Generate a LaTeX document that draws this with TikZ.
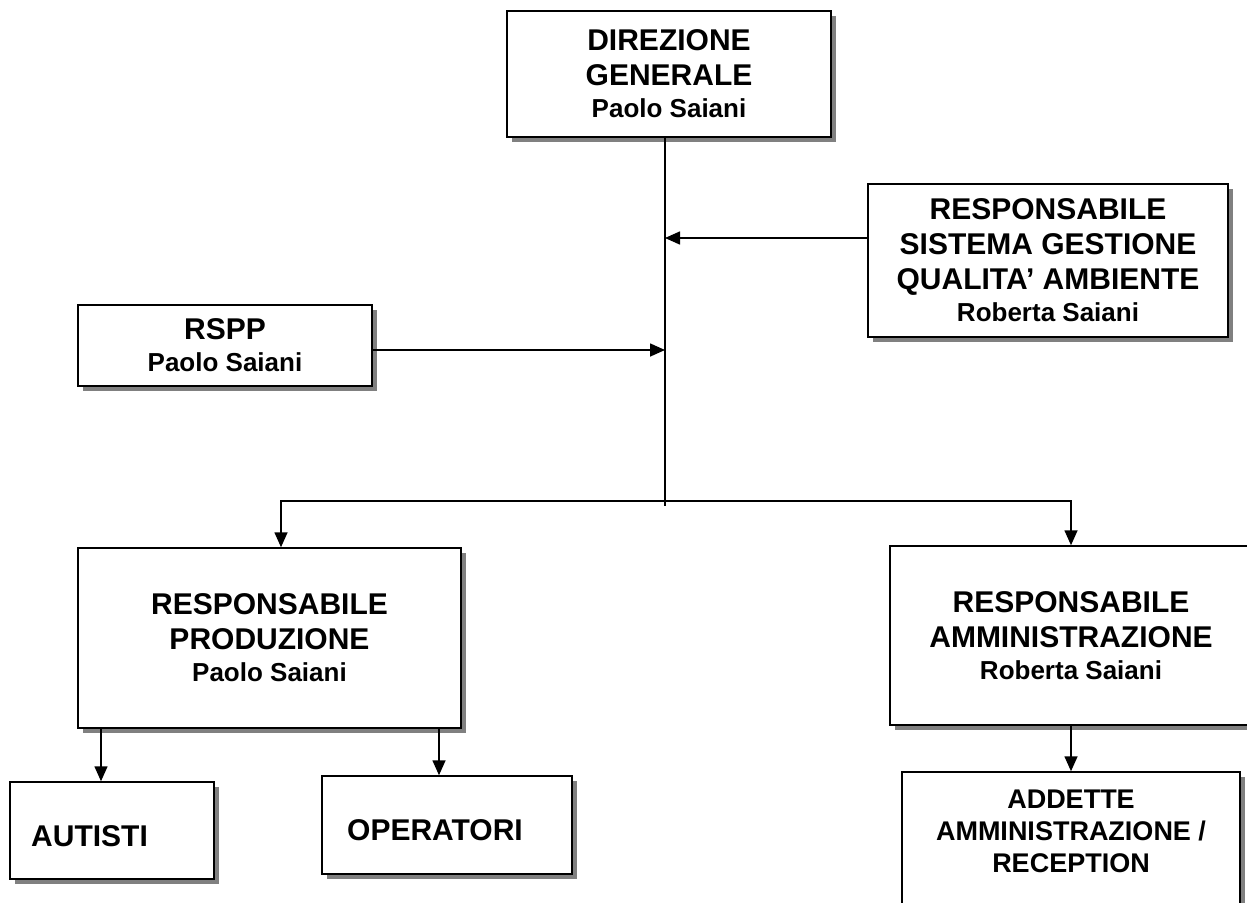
\documentclass[tikz,border=0pt]{standalone}
\usepackage{fontspec}
\setmainfont{Liberation Sans}
\usetikzlibrary{shadows,arrows.meta}
\tikzset{
  orgbox/.style={draw=black, line width=1.5pt, fill=white, rectangle, inner sep=0pt,
    drop shadow={shadow xshift=5pt, shadow yshift=-5pt, opacity=1, fill=black!50},
    align=center, font=\bfseries\fontsize{30}{35}\selectfont},
  txt/.style={inner sep=0pt, align=center, font=\bfseries\fontsize{30}{35}\selectfont},
  conn/.style={line width=1.6pt, draw=black},
  arr/.style={conn, -{Triangle[length=15pt,width=13pt]}},
}
\newcommand{\nm}{\fontsize{26}{32}\selectfont}
\begin{document}
\begin{tikzpicture}[x=1pt,y=-1pt]
\useasboundingbox (0,0) rectangle (1247,902);
% boxes
\node[orgbox, minimum width=324pt, minimum height=126pt] (dg) at (669,74)
  {DIREZIONE\\GENERALE\\[-3pt]{\nm Paolo Saiani}};
\node[orgbox, minimum width=360pt, minimum height=153pt] (rsg) at (1048,260.5)
  {RESPONSABILE\\SISTEMA GESTIONE\\QUALITA’ AMBIENTE\\[-3pt]{\nm Roberta Saiani}};
\node[orgbox, minimum width=294pt, minimum height=81pt] (rspp) at (225,345.5)
  {RSPP\\[-3pt]{\nm Paolo Saiani}};
\node[orgbox, minimum width=383pt, minimum height=180pt] (prod) at (269.5,638)
  {RESPONSABILE\\PRODUZIONE\\[-3pt]{\nm Paolo Saiani}};
\node[orgbox, minimum width=362pt, minimum height=179pt] (amm) at (1071,635.5)
  {RESPONSABILE\\AMMINISTRAZIONE\\[-3pt]{\nm Roberta Saiani}};
\node[orgbox, minimum width=338pt, minimum height=150pt] (add) at (1071,847) {};
\node[txt, font=\bfseries\fontsize{27}{32}\selectfont] (addt) at (1071,831)
  {ADDETTE\\AMMINISTRAZIONE /\\RECEPTION};
\node[orgbox, minimum width=204pt, minimum height=97pt] (aut) at (112,830.5) {};
\node[txt, anchor=west] (autt) at (31,836) {AUTISTI};
\node[orgbox, minimum width=250pt, minimum height=98pt] (oper) at (447,825) {};
\node[txt, anchor=west] (opert) at (347,830) {OPERATORI};
% junction coordinates
\coordinate (jend) at (665,506);
\coordinate (j) at (665,501);
\coordinate (q) at (665,238);
\coordinate (r) at (665,350);
\coordinate (pl) at (281,501);
\coordinate (pr) at (1071,501);
\coordinate (a1) at (101,0);
\coordinate (a2) at (439,0);
% connectors
\draw[conn] (dg.south -| jend) -- (jend);
\draw[arr] (rsg.west |- q) -- (q);
\draw[arr] (rspp.east |- r) -- (r);
\draw[arr] (j) -- (pl) -- (pl |- prod.north);
\draw[arr] (j) -- (pr) -- (amm.north);
\draw[arr] (prod.south -| a1) -- (aut.north -| a1);
\draw[arr] (prod.south -| a2) -- (oper.north -| a2);
\draw[arr] (amm.south) -- (add.north);
\end{tikzpicture}
\end{document}
